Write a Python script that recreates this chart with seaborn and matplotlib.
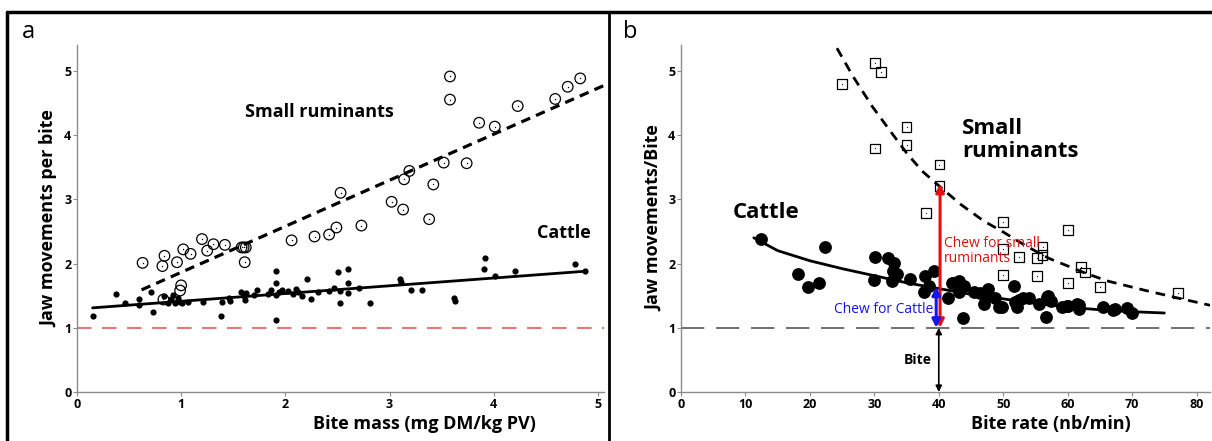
import numpy as np
import pandas as pd
import matplotlib
matplotlib.use("Agg")
import matplotlib.pyplot as plt
import seaborn as sns
from matplotlib.lines import Line2D

# ---- panel a: bite mass vs jaw movements per bite ----
sr_mass = [0.63, 0.84, 0.82, 0.96, 1.02, 1.09, 1.20, 1.25, 1.31, 1.42, 1.58, 1.60, 1.62,
           1.61, 1.00, 0.99, 0.83, 2.06, 2.28, 2.42, 2.49, 2.53, 2.73, 3.02, 3.13, 3.14,
           3.19, 3.38, 3.42, 3.52, 3.74, 3.58, 3.58, 3.86, 4.01, 4.23, 4.59, 4.71, 4.83]
sr_jaw = [2.01, 2.12, 1.96, 2.02, 2.22, 2.15, 2.38, 2.20, 2.30, 2.29, 2.25, 2.25, 2.25,
          2.02, 1.66, 1.58, 1.44, 2.36, 2.42, 2.45, 2.56, 3.10, 2.59, 2.96, 2.84, 3.31,
          3.44, 2.69, 3.23, 3.57, 3.56, 4.91, 4.55, 4.19, 4.13, 4.45, 4.56, 4.75, 4.88]

cat_mass = [0.15, 0.37, 0.46, 0.60, 0.60, 0.71, 0.73, 0.84, 0.87, 0.90, 0.92, 0.94, 0.97,
            0.99, 1.01, 1.07, 1.21, 1.38, 1.39, 1.46, 1.47, 1.57, 1.60, 1.61, 1.62, 1.70,
            1.73, 1.83, 1.86, 1.91, 1.91, 1.91, 1.91, 1.94, 1.97, 2.03, 2.07, 2.10, 2.12,
            2.16, 2.21, 2.25, 2.31, 2.42, 2.47, 2.51, 2.52, 2.52, 2.60, 2.60, 2.60, 2.71,
            2.81, 3.10, 3.11, 3.21, 3.31, 3.62, 3.63, 3.92, 3.91, 4.01, 4.20, 4.78, 4.88]
cat_jaw = [1.18, 1.52, 1.39, 1.44, 1.35, 1.56, 1.25, 1.49, 1.39, 1.44, 1.51, 1.38, 1.46,
           1.40, 1.38, 1.40, 1.40, 1.18, 1.40, 1.46, 1.41, 1.56, 1.49, 1.43, 1.54, 1.51,
           1.58, 1.52, 1.58, 1.89, 1.69, 1.12, 1.51, 1.56, 1.58, 1.57, 1.53, 1.61, 1.56,
           1.49, 1.76, 1.44, 1.56, 1.57, 1.62, 1.87, 1.39, 1.57, 1.92, 1.70, 1.54, 1.62,
           1.38, 1.76, 1.71, 1.58, 1.58, 1.46, 1.41, 2.08, 1.92, 1.81, 1.89, 1.99, 1.88]

# fitted lines (end points)
sr_fit_x = [0.62, 5.10]
sr_fit_y = [1.59, 4.80]
cat_fit_x = [0.15, 4.88]
cat_fit_y = [1.31, 1.88]

# ---- panel b: bite rate vs jaw movements per bite ----
sr_rate = [25.0, 30.1, 31.0, 30.1, 35.0, 35.0, 40.1, 40.1, 38.0, 50.0, 50.0, 50.0, 52.4,
           55.2, 55.2, 56.1, 56.1, 60.1, 60.1, 62.1, 62.7, 65.0, 77.1]
sr_jaw_b = [4.79, 5.12, 4.98, 3.79, 4.13, 3.84, 3.54, 3.20, 2.79, 2.64, 2.23, 1.82, 2.10,
            2.08, 1.81, 2.26, 2.13, 2.52, 1.70, 1.94, 1.86, 1.63, 1.54]

cat_rate = [12.4, 18.1, 19.7, 21.4, 22.3, 30.1, 30.0, 32.1, 32.7, 33.1, 32.9, 33.5, 35.6,
            37.8, 37.7, 38.5, 39.2, 41.5, 42.1, 43.1, 43.1, 43.9, 43.8, 45.5, 47.0, 47.6,
            47.7, 48.8, 49.4, 51.6, 51.9, 52.1, 53.0, 54.0, 55.6, 56.7, 57.0, 57.4, 59.2,
            60.1, 61.4, 61.8, 65.5, 67.3, 69.2, 70.0, 46.4, 49.8, 52.4, 56.8, 59.9, 61.7,
            67.1, 42.3]
cat_jaw_b = [2.38, 1.83, 1.64, 1.69, 2.25, 2.10, 1.74, 2.09, 1.73, 2.01, 1.89, 1.83, 1.76,
             1.81, 1.55, 1.65, 1.89, 1.46, 1.70, 1.73, 1.55, 1.65, 1.15, 1.55, 1.37, 1.61,
             1.50, 1.47, 1.32, 1.65, 1.40, 1.32, 1.46, 1.47, 1.37, 1.16, 1.50, 1.42, 1.32,
             1.34, 1.37, 1.29, 1.32, 1.29, 1.30, 1.23, 1.54, 1.32, 1.43, 1.48, 1.34, 1.35,
             1.28, 1.70]

# fitted curves
sr_curve_x = [24.2, 26.7, 29.7, 32.7, 35.0, 37.4, 40.0, 43.4, 47.0, 50.0, 53.6, 57.1,
              62.5, 66.1, 72.1, 76.8, 82.1]
sr_curve_y = [5.35, 4.91, 4.44, 4.03, 3.72, 3.44, 3.21, 2.92, 2.66, 2.49, 2.27, 2.08,
              1.86, 1.73, 1.58, 1.47, 1.35]
cat_curve_x = [11.3, 15.0, 20.1, 25.0, 30.0, 35.0, 40.0, 45.0, 50.0, 55.0, 60.1, 65.0, 70.0, 75.0]
cat_curve_y = [2.40, 2.20, 2.04, 1.92, 1.81, 1.70, 1.61, 1.52, 1.45, 1.38, 1.32, 1.28, 1.25, 1.23]

sns.set_style("white")
plt.rcParams['font.family'] = ['Open Sans', 'DejaVu Sans']
plt.rcParams['text.color'] = 'black'
plt.rcParams['axes.labelcolor'] = 'black'
plt.rcParams['xtick.color'] = 'black'
plt.rcParams['ytick.color'] = 'black'

fig = plt.figure(figsize=(12.12, 4.41), dpi=100)
ax_a = fig.add_axes([0.0635, 0.111, 0.4350, 0.787])
ax_b = fig.add_axes([0.5619, 0.111, 0.4365, 0.787])

# panel a
sns.scatterplot(x=sr_mass, y=sr_jaw, ax=ax_a, marker='o', s=58, facecolor='none',
                edgecolor='black', linewidth=0.9, zorder=3)
sns.scatterplot(x=sr_mass, y=sr_jaw, ax=ax_a, marker='.', s=4, color='black',
                linewidth=0, zorder=3)
sns.scatterplot(x=cat_mass, y=cat_jaw, ax=ax_a, marker='o', s=20, color='black',
                linewidth=0, zorder=3)
sns.lineplot(x=sr_fit_x, y=sr_fit_y, ax=ax_a, color='black', lw=2.3,
             linestyle=(0, (3, 2)), zorder=2)
sns.lineplot(x=cat_fit_x, y=cat_fit_y, ax=ax_a, color='black', lw=2.0, zorder=2)
ax_a.axhline(1, color='#e87878', lw=1.5, linestyle=(0, (7, 5)), zorder=1)
ax_a.text(2.33, 4.35, 'Small ruminants', fontsize=13, fontweight='bold',
          ha='center', va='center')
ax_a.text(4.67, 2.47, 'Cattle', fontsize=13, fontweight='bold', ha='center', va='center')
ax_a.set_xlim(0, 5.06)
ax_a.set_ylabel('Jaw movements per bite', fontsize=13, fontweight='bold')
ax_a.set_xlabel('Bite mass (mg DM/kg PV)', fontsize=13, fontweight='bold')
ax_a.xaxis.set_label_coords(0.66, -0.065)
ax_a.set_xticks([0, 1, 2, 3, 4, 5])

# panel b
sns.scatterplot(x=sr_rate, y=sr_jaw_b, ax=ax_b, marker='s', s=50, facecolor='none',
                edgecolor='black', linewidth=0.9, zorder=3)
sns.scatterplot(x=sr_rate, y=sr_jaw_b, ax=ax_b, marker='.', s=3, color='black',
                linewidth=0, zorder=3)
sns.scatterplot(x=cat_rate, y=cat_jaw_b, ax=ax_b, marker='o', s=85, color='black',
                linewidth=0, zorder=3)
sns.lineplot(x=sr_curve_x, y=sr_curve_y, ax=ax_b, color='black', lw=2.0,
             linestyle=(0, (3.5, 2.5)), zorder=2)
sns.lineplot(x=cat_curve_x, y=cat_curve_y, ax=ax_b, color='black', lw=2.0, zorder=2)
ax_b.axhline(1, color='#707070', lw=1.4, linestyle=(0, (12, 6)), zorder=1)

ax_b.annotate('', xy=(40.2, 3.24), xytext=(40.2, 1.0),
              arrowprops=dict(arrowstyle='<|-|>', color='#e01010', lw=2.2,
                              mutation_scale=12, shrinkA=0, shrinkB=0), zorder=4)
ax_b.annotate('', xy=(39.6, 1.64), xytext=(39.6, 1.0),
              arrowprops=dict(arrowstyle='<|-|>', color='#1515ee', lw=2.2,
                              mutation_scale=12, shrinkA=0, shrinkB=0), zorder=5)
ax_b.annotate('', xy=(40.0, 1.0), xytext=(40.0, 0.0),
              arrowprops=dict(arrowstyle='<|-|>', color='black', lw=1.2,
                              mutation_scale=9, shrinkA=0, shrinkB=0), zorder=4)
ax_b.text(40.8, 2.19, 'Chew for small\nruminants', color='#e01010', fontsize=10,
          ha='left', va='center', linespacing=1.0)
ax_b.text(39.2, 1.28, 'Chew for Cattle', color='#1515ee', fontsize=10,
          ha='right', va='center')
ax_b.text(36.7, 0.50, 'Bite', fontsize=10, fontweight='bold', ha='center', va='center')
ax_b.text(43.6, 3.92, 'Small\nruminants', fontsize=16, fontweight='bold',
          ha='left', va='center', linespacing=1.1)
ax_b.text(8.0, 2.80, 'Cattle', fontsize=16, fontweight='bold', ha='left', va='center')
ax_b.set_xlim(0, 82.1)
ax_b.set_ylabel('Jaw movements/Bite', fontsize=13, fontweight='bold')
ax_b.set_xlabel('Bite rate (nb/min)', fontsize=13, fontweight='bold')
ax_b.xaxis.set_label_coords(0.70, -0.065)
ax_b.set_xticks(range(0, 81, 10))

for ax in (ax_a, ax_b):
    ax.set_ylim(0, 5.4)
    ax.set_yticks([0, 1, 2, 3, 4, 5])
    for side in ('top', 'right'):
        ax.spines[side].set_visible(False)
    for side in ('left', 'bottom'):
        ax.spines[side].set_color('#8c8c8c')
        ax.spines[side].set_linewidth(1.0)
    ax.tick_params(axis='both', direction='out', length=3, width=0.8, color='#8c8c8c',
                   labelcolor='black', labelsize=9, pad=1, bottom=True, left=True)
    for lab in ax.get_xticklabels() + ax.get_yticklabels():
        lab.set_fontweight('bold')

# panel letters and frame
fig.text(22 / 1212, 1 - 32 / 441, 'a', fontsize=17, va='center', ha='left')
fig.text(623 / 1212, 1 - 32 / 441, 'b', fontsize=17, va='center', ha='left')
fig.add_artist(Line2D([7 / 1212, 1], [1 - 12 / 441] * 2, color='black', lw=2.5,
                      transform=fig.transFigure))
fig.add_artist(Line2D([7 / 1212] * 2, [0, 1 - 12 / 441], color='black', lw=2.5,
                      transform=fig.transFigure))
fig.add_artist(Line2D([609 / 1212] * 2, [0, 1 - 12 / 441], color='black', lw=2.0,
                      transform=fig.transFigure))

fig.savefig('out.png', dpi=100)
